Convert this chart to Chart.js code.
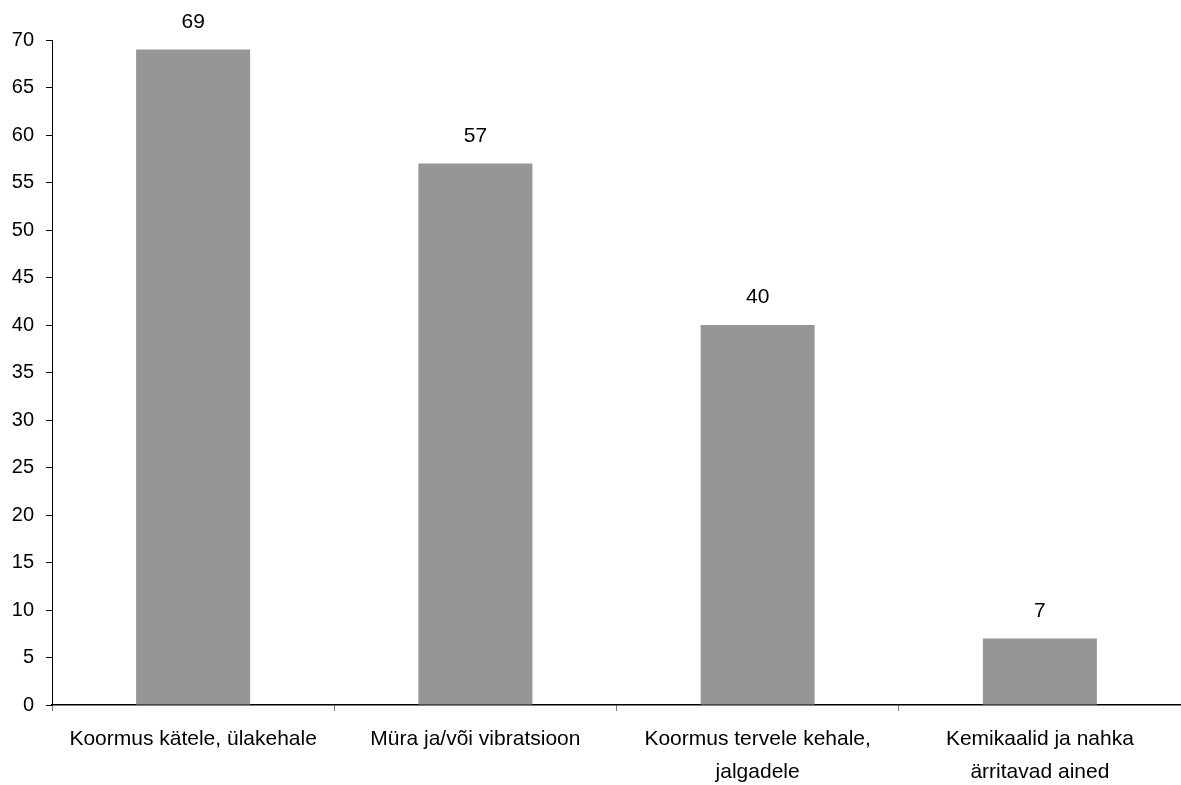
<!DOCTYPE html>
<html lang="et">
<head>
  <meta charset="UTF-8">
  <title>Koormused</title>
  <script src="https://cdn.jsdelivr.net/npm/chart.js"></script>
  <style>
    * { margin: 0; padding: 0; box-sizing: border-box; }
    body { background: #fff; width: 1181px; height: 785px; overflow: hidden; }
    canvas { display: block; }
  </style>
</head>
<body>
  <canvas id="chart" width="1181" height="785"></canvas>

  <script>
    const categories = [
      'Koormus kätele, ülakehale',
      'Müra ja/või vibratsioon',
      ['Koormus tervele kehale,', 'jalgadele'],
      ['Kemikaalid ja nahka', 'ärritavad ained']
    ];
    const values = [69, 57, 40, 7];
    const yMin = 0;
    const yMax = 70;
    const yStep = 5;

    const FONT = "'Liberation Sans', Arial, sans-serif";

    // writes the value above each bar
    const valueLabels = {
      id: 'valueLabels',
      afterDatasetsDraw(chart) {
        const ctx = chart.ctx;
        const meta = chart.getDatasetMeta(0);
        ctx.save();
        ctx.font = '21px ' + FONT;
        ctx.fillStyle = '#000';
        ctx.textAlign = 'center';
        ctx.textBaseline = 'alphabetic';
        meta.data.forEach((bar, i) => {
          ctx.fillText(String(values[i]), bar.x, bar.y - 22);
        });
        ctx.restore();
      }
    };

    new Chart(document.getElementById('chart').getContext('2d'), {
      type: 'bar',
      data: {
        labels: categories,
        datasets: [{
          data: values,
          backgroundColor: '#969696',
          borderWidth: 0,
          categoryPercentage: 1,
          barPercentage: 0.404
        }]
      },
      options: {
        responsive: false,
        animation: false,
        layout: { padding: { top: 40, right: 0, bottom: 0, left: 0 } },
        plugins: {
          legend: { display: false },
          tooltip: { enabled: false }
        },
        scales: {
          x: {
            afterFit: (scale) => { scale.height = 80; },
            grid: {
              offset: true,
              drawOnChartArea: false,
              drawTicks: true,
              tickLength: 6,
              color: '#777'
            },
            border: { display: true, color: '#000', width: 1.5 },
            ticks: {
              color: '#000',
              font: { family: FONT, size: 21, lineHeight: 1.56 },
              padding: 12,
              maxRotation: 0,
              autoSkip: false
            }
          },
          y: {
            min: yMin,
            max: yMax,
            afterFit: (scale) => { scale.width = 52; },
            grid: {
              drawOnChartArea: false,
              drawTicks: true,
              tickLength: 6,
              color: '#000'
            },
            border: { display: true, color: '#000', width: 1 },
            ticks: {
              stepSize: yStep,
              color: '#000',
              font: { family: FONT, size: 20 },
              padding: 12
            }
          }
        }
      },
      plugins: [valueLabels]
    });
  </script>
</body>
</html>
